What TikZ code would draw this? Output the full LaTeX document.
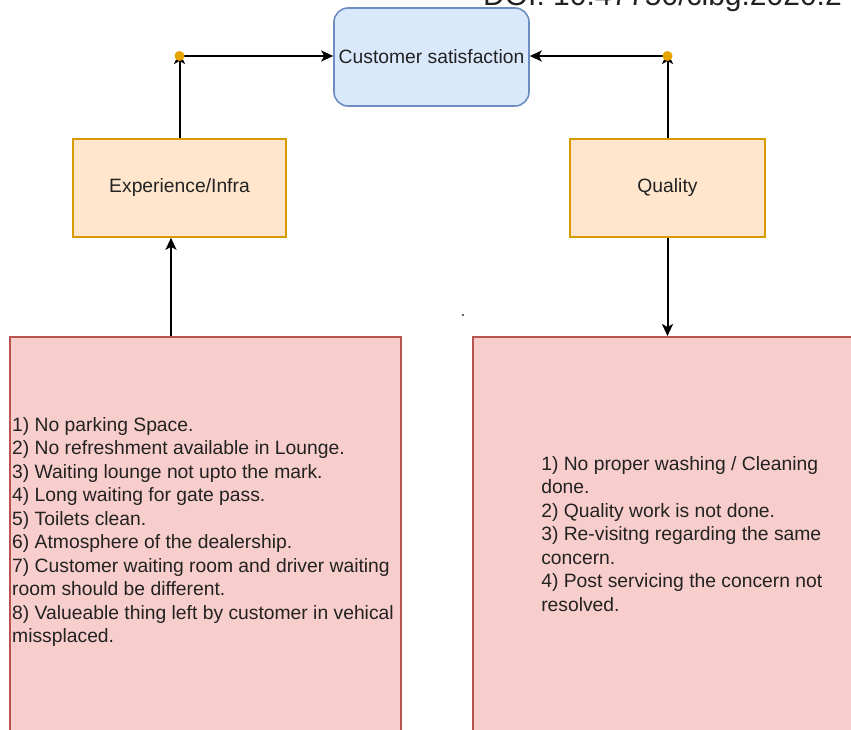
\documentclass[tikz,border=0pt]{standalone}
\usepackage{fontspec}
\setmainfont{Liberation Sans}
\usepackage{tikz}
\usetikzlibrary{arrows.meta}

\definecolor{csfill}{HTML}{DAE8FC}
\definecolor{csline}{HTML}{6C8EBF}
\definecolor{orfill}{HTML}{FFE6CC}
\definecolor{orline}{HTML}{D79B00}
\definecolor{rdfill}{HTML}{F8CECC}
\definecolor{rdline}{HTML}{B85450}
\definecolor{dotcol}{HTML}{E6A400}
\definecolor{txt}{HTML}{222222}

\begin{document}
\begin{tikzpicture}[x=1pt, y=-1pt,
    every node/.style={font=\fontsize{19.3}{23.5}\selectfont, text=txt},
    goal/.style={draw=csline, fill=csfill, line width=1.6pt, rounded corners=14pt,
      minimum width=195pt, minimum height=98pt, inner sep=0pt},
    factor/.style={draw=orline, fill=orfill, line width=1.6pt,
      minimum height=98pt, inner sep=0pt},
    issues/.style={draw=rdline, fill=rdfill, line width=1.6pt, align=left,
      anchor=north west, minimum height=394pt, inner sep=0pt},
    joint/.style={circle, fill=dotcol, minimum size=10pt, inner sep=0pt},
    arr/.style={-{Stealth[length=12pt, width=11pt, inset=3pt]}, line width=2pt}]
  \useasboundingbox (0,0) rectangle (851,729);
  \clip (0,0) rectangle (851,729);
  \fill[white] (0,0) rectangle (851,729);

  \node[font=\fontsize{30}{34}\selectfont, anchor=base west, inner sep=0pt] (doi) at (483,5) {DOI: 10.47750/cibg.2020.2};

  \node[goal] (cs) at (431.5,57) {Customer satisfaction};
  \node[factor, minimum width=213pt] (exp) at (179.5,188) {Experience/Infra};
  \node[factor, minimum width=195pt] (qual) at (667.5,188) {Quality};

  \node[issues, minimum width=391pt] (lred) at (9,336) {};
  \node[align=left, anchor=west, inner sep=0pt] (ltext) at ([xshift=3pt, yshift=2pt]lred.west) {%
    1) No parking Space.\\
    2) No refreshment available in Lounge.\\
    3) Waiting lounge not upto the mark.\\
    4) Long waiting for gate pass.\\
    5) Toilets clean.\\
    6) Atmosphere of the dealership.\\
    7) Customer waiting room and driver waiting\\
    room should be different.\\
    8) Valueable thing left by customer in vehical\\
    missplaced.};
  \node[issues, minimum width=418pt] (rred) at (472,336) {%
    1) No proper washing / Cleaning\\
    done.\\
    2) Quality work is not done.\\
    3) Re-visitng regarding the same\\
    concern.\\
    4) Post servicing the concern not\\
    resolved.};

  \coordinate (lj) at (179.5,56);
  \coordinate (rj) at (667.5,56);

  \draw[arr] (exp.north) -- ([yshift=4pt]lj);
  \draw[arr] (lj) -- (lj -| cs.west);
  \draw[arr] (qual.north) -- ([yshift=4pt]rj);
  \draw[arr] (rj) -- (rj -| cs.east);
  \draw[arr] (lred.north -| 171,0) -- (exp.south -| 171,0);
  \draw[arr] (qual.south) -- (qual.south |- rred.north);

  \node[joint] (ljoint) at (lj) {};
  \node[joint] (rjoint) at (rj) {};

  \node[fill=black!60, minimum size=2.5pt, inner sep=0pt] (speck) at (463,315) {};
\end{tikzpicture}
\end{document}
